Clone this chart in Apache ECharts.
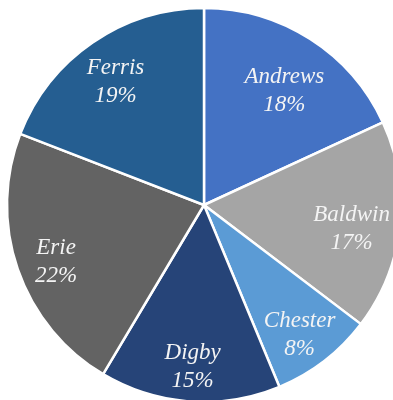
<!DOCTYPE html>
<html>
<head>
<meta charset="utf-8">
<script src="https://cdn.jsdelivr.net/npm/echarts@6/dist/echarts.min.js"></script>
<style>html,body{margin:0;padding:0;background:#fff}#c{width:393px;height:400px}</style>
</head>
<body>
<div id="c"></div>
<script>
var categories = ['Andrews', 'Baldwin', 'Chester', 'Digby', 'Erie', 'Ferris'];
var values = [18.1, 17.2, 8.4, 14.8, 22.3, 19.1];
var colors = ['#4472C4', '#A5A5A5', '#5B9BD5', '#264478', '#636363', '#255E91'];

var chart = echarts.init(document.getElementById('c'));
var data = categories.map(function (n, i) {
  return { name: n, value: values[i], itemStyle: { color: colors[i] } };
});
var nudges = { Andrews: [-4, 18], Baldwin: [-8, 7] };
var labelData = categories.map(function (n, i) {
  var d = { name: n, value: values[i] };
  if (nudges[n]) d.label = { offset: nudges[n] };
  return d;
});
chart.setOption({
  animation: false,
  series: [
    {
      type: 'pie',
      center: [204, 205],
      radius: [0, 197],
      startAngle: 90,
      clockwise: true,
      silent: true,
      data: data,
      itemStyle: { borderColor: '#ffffff', borderWidth: 2.5 },
      label: { show: false },
      labelLine: { show: false }
    },
    {
      type: 'pie',
      center: [204, 205],
      radius: [110, 197],
      startAngle: 90,
      clockwise: true,
      silent: true,
      data: labelData,
      itemStyle: { color: 'rgba(0,0,0,0)', borderWidth: 0 },
      labelLine: { show: false },
      label: {
        show: true,
        position: 'inside',
        offset: [0, 6],
        color: '#f4f4f4',
        fontFamily: '"Liberation Serif", "Times New Roman", serif',
        fontStyle: 'italic',
        fontSize: 23,
        lineHeight: 28,
        formatter: function (p) { return p.name + '\n' + Math.round(p.percent) + '%'; }
      }
    }
  ]
});
</script>
</body>
</html>
